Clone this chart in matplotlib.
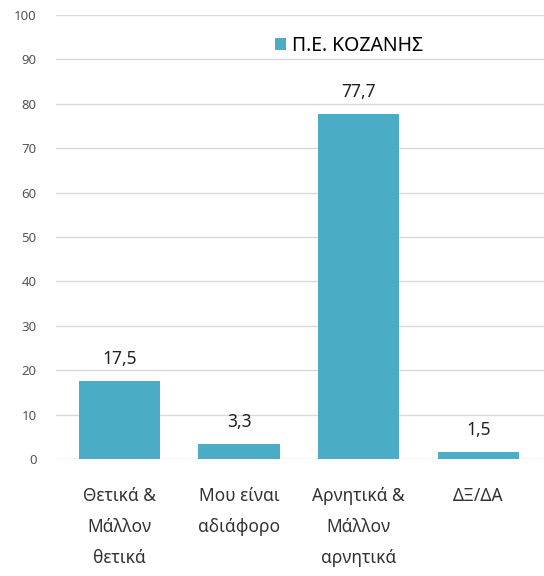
import matplotlib
matplotlib.use('Agg')
import matplotlib.pyplot as plt

plt.rcParams['font.family'] = ['Noto Sans', 'DejaVu Sans']

categories = ['Θετικά &\nΜάλλον\nθετικά', 'Μου είναι\nαδιάφορο', 'Αρνητικά &\nΜάλλον\nαρνητικά', 'ΔΞ/ΔΑ']
values = [17.5, 3.3, 77.7, 1.5]
value_labels = ['17,5', '3,3', '77,7', '1,5']
series_name = 'Π.Ε. ΚΟΖΑΝΗΣ'
yticks = [0, 10, 20, 30, 40, 50, 60, 70, 80, 90, 100]

color = '#4BACC6'

fig = plt.figure(figsize=(5.44, 5.76), dpi=100)
ax = fig.add_axes([0.103, 0.203, 0.897, 0.771])

x = list(range(len(categories)))
bars = ax.bar(x, values, width=0.68, color=color, label=series_name, zorder=3)

for b, lab in zip(bars, value_labels):
    ax.text(b.get_x() + b.get_width() / 2, b.get_height() + 3, lab,
            ha='center', va='bottom', fontsize=12.5, color='#222222')

ax.set_ylim(0, 100)
ax.set_xlim(-0.53, 3.55)
ax.set_yticks(yticks)
ax.tick_params(axis='y', length=0, labelsize=9.5, labelcolor='#555555', pad=14)
ax.set_xticks(x)
ax.set_xticklabels(categories, fontsize=12.5, color='#333333', linespacing=1.95)
ax.tick_params(axis='x', length=0, pad=20)
ax.grid(axis='y', color='#d9d9d9', linewidth=1, zorder=0)
for s in ax.spines.values():
    s.set_visible(False)

ax.legend(loc='center', bbox_to_anchor=(0.6, 0.93), frameon=False, fontsize=14,
          handlelength=0.6, handleheight=0.6, handletextpad=0.3)

fig.savefig('out.png', dpi=100)
